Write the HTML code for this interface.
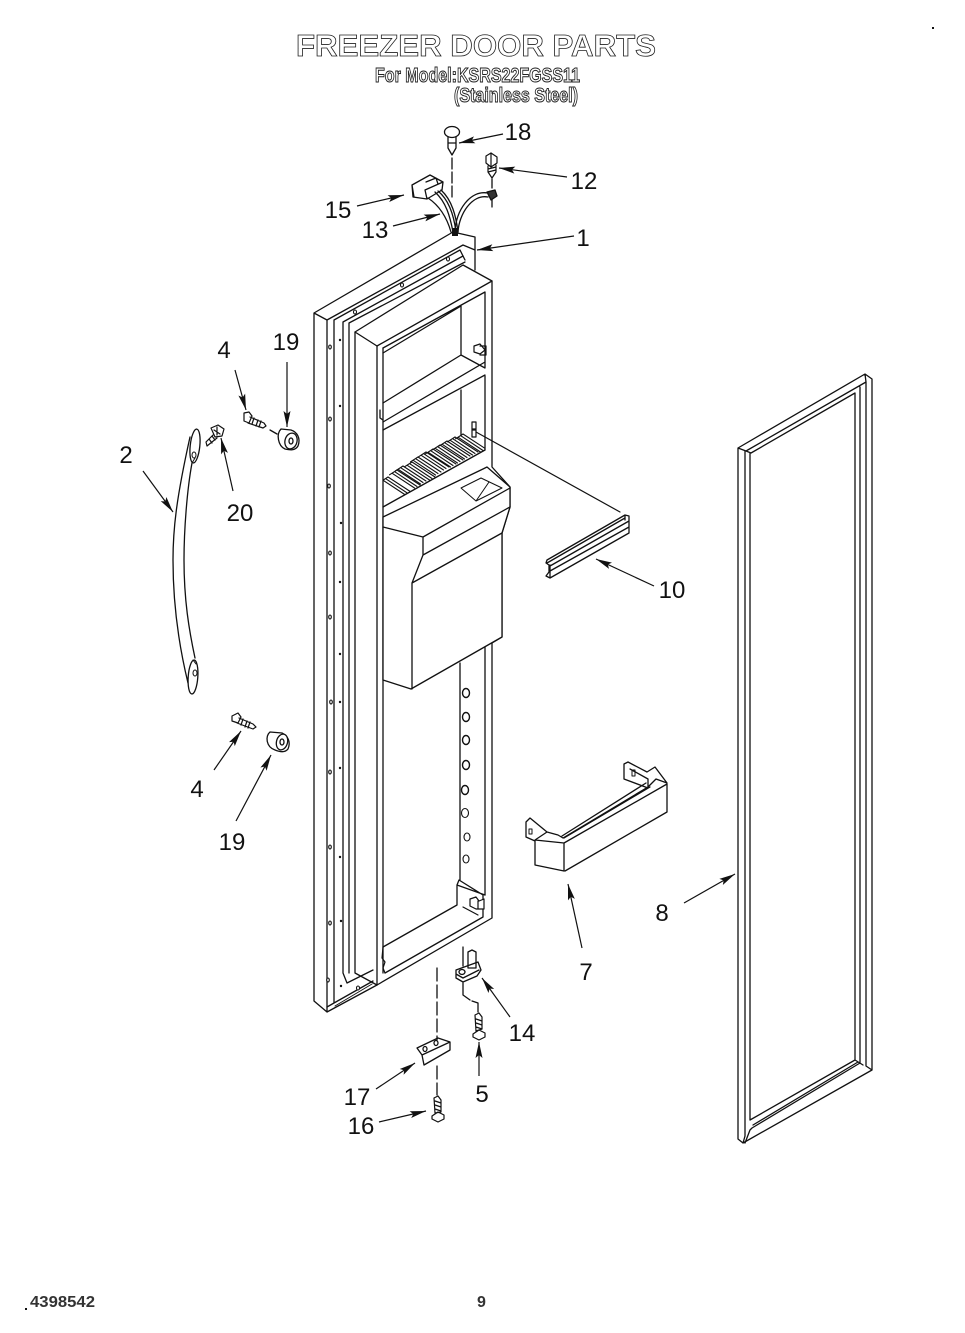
<!DOCTYPE html>
<html><head><meta charset="utf-8"><style>
html,body{margin:0;padding:0;background:#fff}
svg{display:block}
.l{font:24px "Liberation Sans",sans-serif;fill:#111;text-anchor:middle}
</style></head><body>
<svg width="965" height="1333" viewBox="0 0 965 1333" xmlns="http://www.w3.org/2000/svg">
<defs>
<marker id="a" markerUnits="userSpaceOnUse" markerWidth="18" markerHeight="10" refX="16" refY="4.5" orient="auto"><path d="M0 1L16 4.5L0 8L3 4.5Z" fill="#111"/></marker>
<clipPath id="fc"><path d="M383 476L470 425H485V450L383 507Z"/></clipPath>
<g id="fin"><path d="M0 0L23 15M-2.5 1.6L20 16.5M-5 3.2L17.5 18M-7.5 4.8L0 0"/></g>
</defs>
<rect width="965" height="1333" fill="#fff"/>
<g font-family="'Liberation Sans',sans-serif" font-weight="bold" fill="#fff" stroke="#222" stroke-width="0.8">
<text x="296" y="56" font-size="31" textLength="360" lengthAdjust="spacingAndGlyphs">FREEZER DOOR PARTS</text>
<text x="375" y="82" font-size="20" textLength="205" lengthAdjust="spacingAndGlyphs" stroke-width="1">For Model:KSRS22FGSS11</text>
<text x="454" y="102" font-size="20" textLength="124" lengthAdjust="spacingAndGlyphs" stroke-width="1">(Stainless Steel)</text>
</g>
<g font-family="'Liberation Sans',sans-serif" font-weight="bold" font-size="16" fill="#333">
<text x="30" y="1307" textLength="65" lengthAdjust="spacingAndGlyphs">4398542</text>
<text x="477" y="1307">9</text>
</g>
<rect x="25" y="1308" width="2" height="2" fill="#111"/><rect x="932" y="27" width="2" height="2" fill="#111"/>

<g fill="none" stroke="#111" stroke-width="1.3" stroke-linejoin="round" stroke-linecap="round">
<!-- door outer -->
<path d="M314 313L453 232L475 237V270M314 313V1001L327 1012M314 313L327 320V1012L377 985M327 320L463 245L475 250"/>
<path d="M334 320L460 250L465 260M334 320V1003L327 1007M334 1003L373 981"/>
<path d="M343 322L463 256M343 322V973L347 983L373 970M349 323L465 262M349 323V973"/>
<path d="M335 1006L372 984" stroke-width="1"/>
<!-- frame -->
<path d="M355 332L463 265L492 281V467L510 487V507L502 533V637L492 643V918L377 985V346Z" fill="#fff"/>
<path d="M355 332V973L377 985M377 346L492 281M383 348V947M383 947V973"/>
<path d="M383 348L485 292V368L461 355V306L383 353M383 403L461 355M383 430L485 375M383 422L485 362M380 410V418L383 420"/>
<path d="M461 390V435M485 376V450"/>
<!-- fins -->
<g clip-path="url(#fc)" stroke-width="1.1">
<use href="#fin" x="388" y="477"/><use href="#fin" x="397" y="470"/><use href="#fin" x="403" y="466"/><use href="#fin" x="412" y="462"/><use href="#fin" x="418" y="457"/><use href="#fin" x="426" y="452"/><use href="#fin" x="433" y="449"/><use href="#fin" x="440" y="445"/><use href="#fin" x="447" y="441"/><use href="#fin" x="455" y="437"/><use href="#fin" x="463" y="434"/>
</g>
<path d="M383 507L485 450"/>
<!-- dispenser -->
<path d="M383 517L483 469L487 467L510 487V507L502 533V637L411 689L383 680Z" fill="#fff"/>
<path d="M383 527L423 537L510 488M423 537V555L510 507M423 555L412 583L502 533M412 583V689"/>
<path d="M461 488L481 478L502 488L476 501ZM476 501L489 482" stroke-width="1"/>
<path d="M460 663V880M485 647V895"/>
<!-- holes -->
<g stroke-width="1.1" fill="#fff">
<ellipse cx="466" cy="693" rx="3.5" ry="4.5" stroke-width="1.4"/><ellipse cx="466" cy="717" rx="3.5" ry="4.5" stroke-width="1.4"/><ellipse cx="466" cy="740" rx="3.5" ry="4.5" stroke-width="1.4"/><ellipse cx="466" cy="765" rx="3.5" ry="4.5" stroke-width="1.4"/><ellipse cx="465" cy="790" rx="3.5" ry="4.5" stroke-width="1.4"/><ellipse cx="465" cy="813" rx="3.5" ry="4.5"/><ellipse cx="467" cy="837" rx="3" ry="4"/><ellipse cx="466" cy="859" rx="3" ry="4"/>
<ellipse cx="330" cy="347" rx="1.3" ry="2"/><ellipse cx="330" cy="419" rx="1.3" ry="2"/><ellipse cx="329" cy="486" rx="1.3" ry="2"/><ellipse cx="330" cy="553" rx="1.3" ry="2"/><ellipse cx="330" cy="617" rx="1.3" ry="2"/><ellipse cx="331" cy="702" rx="1.3" ry="2"/><ellipse cx="330" cy="772" rx="1.3" ry="2"/><ellipse cx="330" cy="847" rx="1.3" ry="2"/><ellipse cx="330" cy="923" rx="1.3" ry="2"/><ellipse cx="328" cy="980" rx="1.3" ry="2"/>
<ellipse cx="448" cy="259" rx="1.5" ry="2"/><ellipse cx="402" cy="285" rx="1.5" ry="2"/><ellipse cx="355" cy="312" rx="1.5" ry="2"/><ellipse cx="358" cy="988" rx="1.5" ry="2"/>
</g>
<g fill="#111" stroke="none"><circle cx="340" cy="340" r="1.2"/><circle cx="340" cy="406" r="1.2"/><circle cx="341" cy="523" r="1.2"/><circle cx="340" cy="582" r="1.2"/><circle cx="340" cy="654" r="1.2"/><circle cx="340" cy="702" r="1.2"/><circle cx="340" cy="768" r="1.2"/><circle cx="340" cy="857" r="1.2"/><circle cx="341" cy="921" r="1.2"/><circle cx="341" cy="986" r="1.2"/></g>
<!-- clips -->
<path d="M474 346L480 344L485 350L480 354L474 352ZM480 346H486V355H480M472 422H476V430H472ZM472 429H476V437H472Z" stroke-width="1.2"/>
<!-- bottom of frame -->
<path d="M459 880L457 885V905L383 947M385 973L483 917V895L459 880M457 885L485 895"/>
<path d="M383 947L382 958L385 962L383 968L385 973M463 907L478 915" stroke-width="1.2"/>
<path d="M470 899L476 897L479 901L484 899V909H476L470 906ZM478 901V909" fill="#fff" stroke-width="1.2"/>
<!-- leader lines -->
<path d="M476 432L620 512" stroke-width="1.2"/>
<!-- handle -->
<path d="M190 437C176 500 173 530 173 560C173 610 180 650 188 683M192 463C187 490 184 530 184 560C184 600 189 630 195 658"/>
<ellipse cx="195" cy="446" rx="4.8" ry="17" transform="rotate(6 195 446)"/><ellipse cx="193" cy="677" rx="4.8" ry="17" transform="rotate(4 193 677)"/>
<ellipse cx="194" cy="455" rx="2" ry="3" stroke-width="1"/><ellipse cx="195" cy="673" rx="2" ry="3" stroke-width="1"/>
<path d="M192 463L195 458M193 660L196 664" stroke-width="1"/>
<!-- top parts -->
<ellipse cx="452" cy="132" rx="7.5" ry="5.5"/><path d="M448 137V148L452 155L456 148V137M448 143H456" />
<path d="M452 158V197" stroke-dasharray="11 3"/>
<path d="M486 156L491 153L497 157V163L491 167L486 163ZM488 166V172L492 178L496 172V165M488 169L496 167M488 172L496 170M491 153V167" stroke-width="1.2"/>
<path d="M492 179V188M492 198V207"/><path d="M487 192L495 190L497 196L491 200Z" fill="#333"/>
<path d="M412 185L430 175L443 182L442 190L427 199L413 197ZM412 185L414 197M425 190L427 199M425 190L443 182M426 182L436 178L438 184" fill="#fff"/>
<path d="M435 192C446 202 450 216 453 232M438 191C449 200 454 216 456 232M441 190C452 200 456 216 458 232M428 198C440 206 447 218 451 232"/>
<path d="M455 232C456 210 470 190 488 193M458 232C459 214 472 194 488 197"/>
<rect x="452" y="228" width="6" height="8" fill="#111" stroke="none"/>
<!-- screws/spacers upper -->
<path d="M244 413L249 412L252 416L249 423L244 421ZM250 417L264 423L266 426L263 428L248 423M254 418L252 424M258 420L256 426M261 421L259 427" stroke-width="1.2"/>
<path d="M270 430L277 434"/>
<path d="M281 429L291 430C297 432 301 438 298 446C295 451 290 450 285 449C278 446 276 434 281 429Z" fill="#fff"/><ellipse cx="291" cy="441" rx="6" ry="8" transform="rotate(15 291 441)" fill="#fff"/><ellipse cx="291" cy="441" rx="2" ry="3"/>
<path d="M211 428L218 425L224 429L222 436L215 437ZM213 435L206 442L207 446L217 438M209 439L212 443M212 436L215 440M214 430L220 434M217 427L217 435" stroke-width="1.2"/>
<!-- lower -->
<path d="M232 716L238 713L241 717L238 723L232 721ZM239 718L253 724L256 727L253 729L237 723M243 719L241 725M247 721L245 727M250 722L248 728" stroke-width="1.2"/>
<path d="M270 732L282 733C288 736 291 742 288 749C285 753 280 752 275 750C266 747 265 736 270 732Z" fill="#fff"/><ellipse cx="282" cy="742" rx="5.5" ry="8" transform="rotate(15 282 742)" fill="#fff"/><ellipse cx="282" cy="742" rx="2" ry="3"/>
<!-- bar 10 -->
<path d="M547 560L625 515L629 516V533L550 578L546 576L549 572V565L546 563ZM547 563L625 518M550 566L629 521M550 571L629 527M550 578V565M625 515V520"/>
<!-- shelf 7 -->
<path d="M535 840L564 843V871L535 865ZM564 843L667 784V812L565 871M535 840L547 832L558 835L563 838L648 787L656 779L667 783L655 767L647 772L628 762L624 764V779L648 788V779L630 769M526 822L530 818L547 832M526 822V837L535 841M564 838L650 787M562 836L646 783"/>
<path d="M529 829H532V834H529ZM632 770H635V776H632Z" stroke-width="1"/>
<!-- gasket -->
<path d="M738 448L865 374L872 379V1070L743 1143L738 1139ZM738 448L746 451L751 453L855 393V1060L750 1120V453M746 451L866 382L865 374M745 451V1136L743 1143M860 387V1063L752 1128L750 1130L745 1143M866 382V1066L872 1070M855 1060L863 1065M753 1125L858 1062" stroke-width="1.3"/>
<!-- hinge 14 -->
<path d="M468 952L472 950L476 952V968H468Z"/>
<path d="M456 970L478 962L481 970L477 976L463 982L456 978ZM456 974L463 978L479 970"/>
<ellipse cx="462" cy="972" rx="3" ry="2.5"/>
<path d="M463 947V966M463 983V995L470 1000M472 1001L478 1003V1012"/>
<path d="M475 1015L479 1013L482 1017V1029L476 1031ZM476 1019L482 1021M476 1023L482 1025M476 1027L482 1029M473 1034L479 1030L485 1033V1037L479 1040L473 1037Z" stroke-width="1.2"/>
<!-- part 17 -->
<path d="M437 968V1040M437 1066V1095" stroke-dasharray="13 4"/>
<path d="M417 1048L438 1038L450 1042V1050L424 1065L422 1055ZM417 1048L422 1055L450 1042M422 1055L424 1065"/>
<ellipse cx="425" cy="1049" rx="2" ry="2.5"/><ellipse cx="436" cy="1043" rx="2" ry="2.5"/>
<path d="M434 1098L438 1096L441 1100V1112L435 1113ZM435 1101L441 1103M435 1105L441 1107M435 1109L441 1111M432 1116L438 1112L444 1115V1119L438 1122L432 1119Z" stroke-width="1.2"/>
</g>
<!-- arrows -->
<g stroke="#111" stroke-width="1.2" fill="none">
<path d="M503 134L459 143" marker-end="url(#a)"/><path d="M567 177L499 168" marker-end="url(#a)"/><path d="M357 206L404 195" marker-end="url(#a)"/><path d="M393 226L440 214" marker-end="url(#a)"/><path d="M574 236L477 250" marker-end="url(#a)"/><path d="M235 370L246 410" marker-end="url(#a)"/><path d="M287 362V427" marker-end="url(#a)"/><path d="M143 471L173 512" marker-end="url(#a)"/><path d="M233 491L221 438" marker-end="url(#a)"/><path d="M654 586L596 559" marker-end="url(#a)"/><path d="M214 770L241 731" marker-end="url(#a)"/><path d="M236 821L271 755" marker-end="url(#a)"/><path d="M582 948L568 884" marker-end="url(#a)"/><path d="M684 903L735 874" marker-end="url(#a)"/><path d="M510 1017L482 978" marker-end="url(#a)"/><path d="M479 1076V1042" marker-end="url(#a)"/><path d="M376 1089L415 1063" marker-end="url(#a)"/><path d="M379 1122L426 1111" marker-end="url(#a)"/>
</g>
<!-- labels -->
<text class="l" x="518" y="140">18</text><text class="l" x="584" y="189">12</text><text class="l" x="338" y="218">15</text><text class="l" x="375" y="238">13</text><text class="l" x="583" y="246">1</text><text class="l" x="224" y="358">4</text><text class="l" x="286" y="350">19</text><text class="l" x="126" y="463">2</text><text class="l" x="240" y="521">20</text><text class="l" x="672" y="598">10</text><text class="l" x="197" y="797">4</text><text class="l" x="232" y="850">19</text><text class="l" x="586" y="980">7</text><text class="l" x="662" y="921">8</text><text class="l" x="522" y="1041">14</text><text class="l" x="482" y="1102">5</text><text class="l" x="357" y="1105">17</text><text class="l" x="361" y="1134">16</text>
</svg>
</body></html>
